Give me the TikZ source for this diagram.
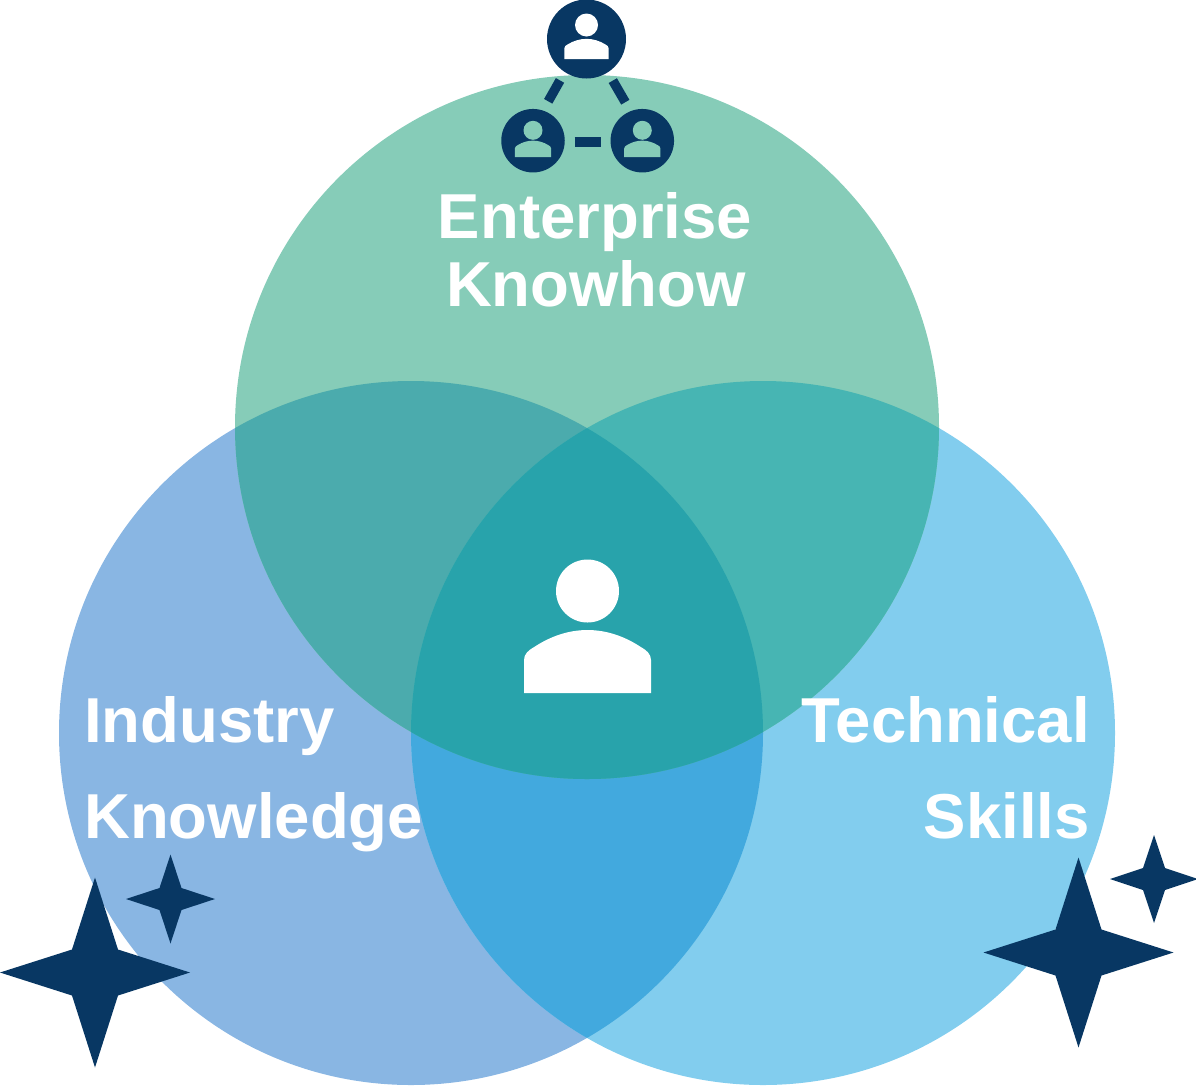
\documentclass[tikz,border=0pt]{standalone}
\usepackage{fontspec}
\setmainfont{Liberation Sans}
\definecolor{topc}{HTML}{86CCB8}
\definecolor{leftc}{HTML}{89B6E3}
\definecolor{rightc}{HTML}{82CDEE}
\definecolor{tlc}{HTML}{4BABAD}
\definecolor{trc}{HTML}{47B5B3}
\definecolor{lrc}{HTML}{42A9DE}
\definecolor{midc}{HTML}{28A3AB}
\definecolor{navy}{HTML}{083763}
\tikzset{
  label text/.style={text=white,font=\bfseries\fontsize{63.5}{63.5}\selectfont,inner sep=0pt},
  hub/.style={circle,fill=navy,inner sep=0pt,minimum size=#1},
  link/.style={draw=navy,line width=9.5pt},
  spark/.style={fill=navy}
}
\newcommand{\topcircle}{(587,427) circle (352)}
\newcommand{\leftcircle}{(411,733) circle (352)}
\newcommand{\rightcircle}{(763,733) circle (352)}
% centre x, bottom y, x scale, y scale, head y, head r, colour
\newcommand{\personicon}[7]{%
  \fill[#7] (#1,#5) circle (#6);
  \begin{scope}[shift={(#1,#2)},xscale=#3,yscale=#4]
    \fill[#7] (-63.5,0) -- (-63.5,-33) .. controls (-63.5,-39) and (-59,-43) .. (-52.5,-46.5)
      .. controls (-38,-56) and (-20,-63) .. (0,-63)
      .. controls (20,-63) and (38,-56) .. (52.5,-46.5)
      .. controls (59,-43) and (63.5,-39) .. (63.5,-33) -- (63.5,0) -- cycle;
  \end{scope}}
% centre x, centre y, half span, inner offset
\newcommand{\sparkle}[4]{%
  \fill[spark] (#1,#2-#3) -- (#1+#4,#2-#4) -- (#1+#3,#2) -- (#1+#4,#2+#4)
    -- (#1,#2+#3) -- (#1-#4,#2+#4) -- (#1-#3,#2) -- (#1-#4,#2-#4) -- cycle;}
\begin{document}
\begin{tikzpicture}[x=1pt,y=-1pt]
\useasboundingbox (0,0) rectangle (1196,1085);
% circles
\fill[leftc] \leftcircle;
\fill[rightc] \rightcircle;
\fill[topc] \topcircle;
\begin{scope}\clip \leftcircle; \fill[lrc] \rightcircle; \fill[tlc] \topcircle; \end{scope}
\begin{scope}\clip \rightcircle; \fill[trc] \topcircle; \end{scope}
\begin{scope}\clip \leftcircle; \clip \rightcircle; \fill[midc] \topcircle; \end{scope}
% centre person
\personicon{587.5}{693}{1}{1}{591}{31.5}{white}
% network icon
\node[hub=79pt] (hubtop) at (586.5,39) {};
\node[hub=63.5pt] (hubleft) at (533,140.7) {};
\node[hub=63.5pt] (hubright) at (642.3,140.7) {};
\personicon{586.5}{59}{0.35}{0.32}{25}{11.5}{white}
\personicon{533}{157}{0.285}{0.26}{130.3}{9.5}{topc}
\personicon{642.3}{157}{0.285}{0.26}{130.3}{9.5}{topc}
\coordinate (l1a) at (560,80.4);
\coordinate (l1b) at (548.2,101.3);
\coordinate (l2a) at (612.8,80.6);
\coordinate (l2b) at (625.3,102.2);
\coordinate (l3a) at (574.7,141.8);
\coordinate (l3b) at (600.7,141.8);
\draw[link] (l1a) -- (l1b);
\draw[link] (l2a) -- (l2b);
\draw[link] (l3a) -- (l3b);
% labels
\node[label text,anchor=base] (ent) at (595,238) {Enterprise};
\node[label text,anchor=base] (know) at (596,306) {Knowhow};
\node[label text,anchor=base west] (ind) at (84,742) {Industry};
\node[label text,anchor=base west] (kno) at (84,838) {Knowledge};
\node[label text,anchor=base east] (tec) at (1090,742) {Technical};
\node[label text,anchor=base east] (ski) at (1090,838) {Skills};
% sparkles
\sparkle{95}{972.5}{95}{23}
\sparkle{170.5}{899}{44.5}{11}
\sparkle{1078.5}{952.5}{95}{23}
\sparkle{1154}{879}{44}{11}
\end{tikzpicture}
\end{document}
